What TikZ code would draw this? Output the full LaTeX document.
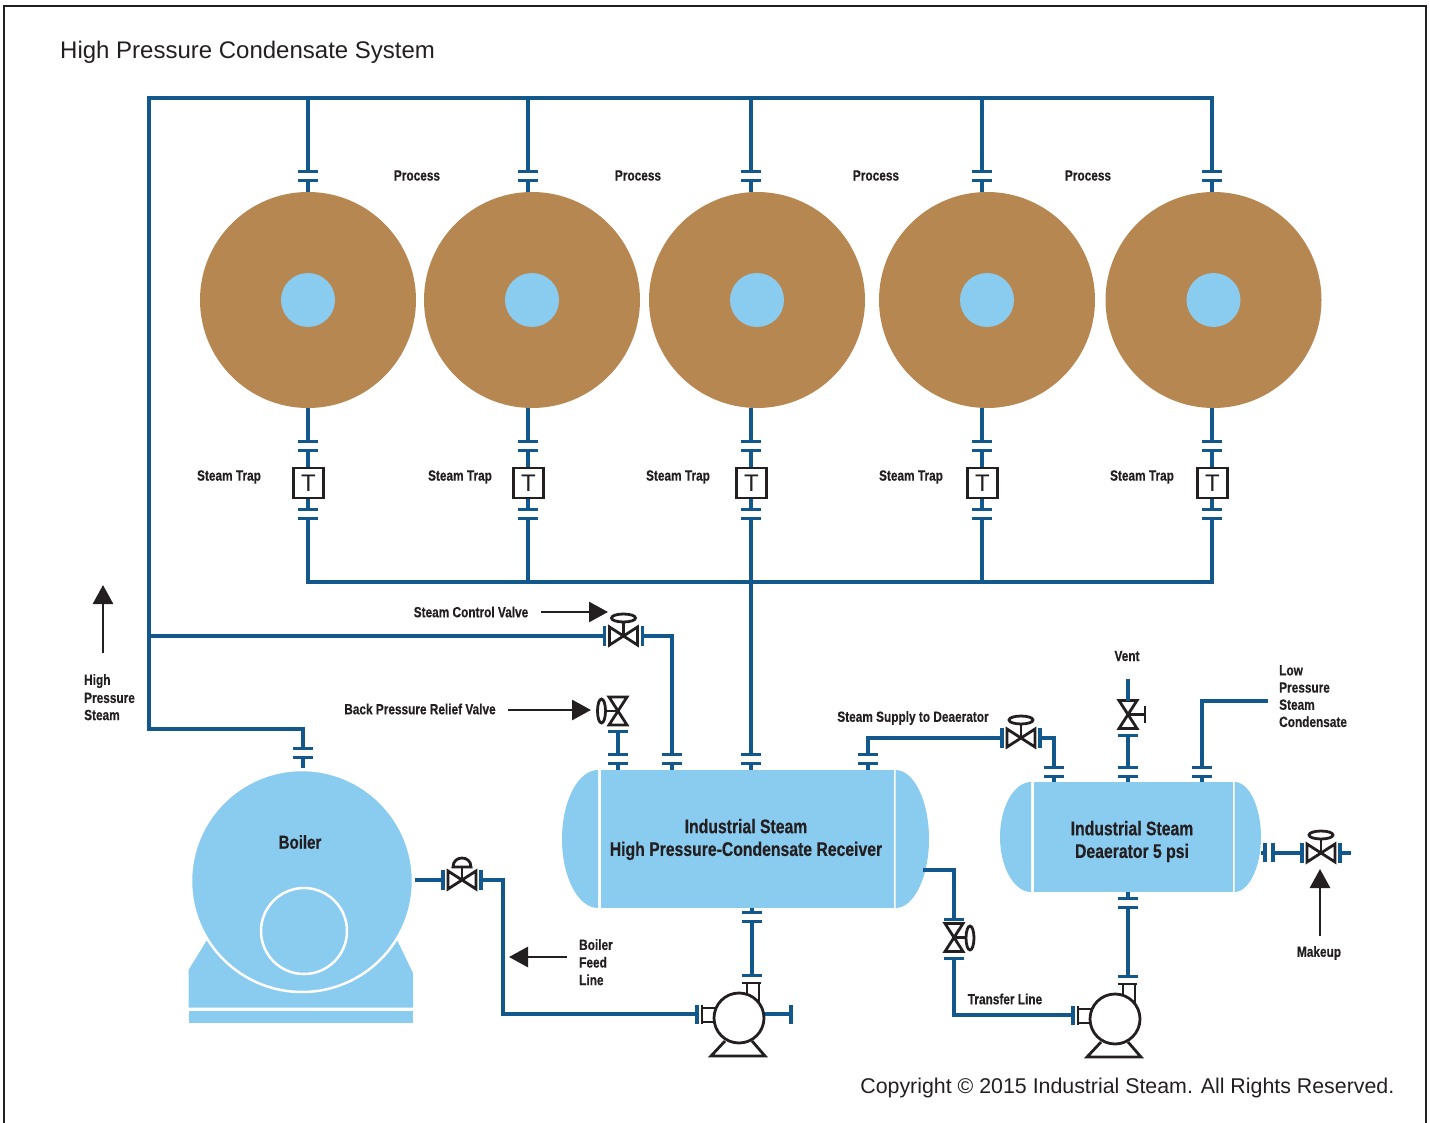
\documentclass[tikz,border=0pt]{standalone}
\usepackage{fontspec}
\setmainfont{Liberation Sans}
\newfontfamily\labfont[FakeStretch=0.8,BoldFeatures={FakeBold=0.4}]{Liberation Sans}
\usetikzlibrary{arrows.meta,calc}
\definecolor{pipeblue}{HTML}{12588C}
\definecolor{tank}{HTML}{8ACBF0}
\definecolor{drumbrown}{HTML}{B78752}
\definecolor{ink}{HTML}{231F20}
\newcommand{\fs}[1]{\fontsize{#1}{#1}\selectfont}
\tikzset{
  x=1pt,y=-1pt,
  pipe/.style={draw=pipeblue,line width=3.6pt,line join=miter},
  flangebar/.style={draw=pipeblue,line width=3pt},
  symb/.style={draw=ink,line width=2.8pt,line join=miter},
  tankfill/.style={fill=tank,draw=none},
  lab/.style={font=\labfont\bfseries\fs{14.8},text=ink,inner sep=0pt,align=left},
  biglab/.style={font=\labfont\bfseries\fs{19.7},text=ink,inner sep=0pt,align=center},
  plain/.style={font=\fs{#1},text=ink,inner sep=0pt},
  callout/.style={draw=ink,line width=2.8pt,-{Triangle[length=19pt,width=20pt]}},
  drum/.style={circle,fill=drumbrown,minimum size=216pt,inner sep=0pt},
  core/.style={circle,fill=tank,minimum size=54pt,inner sep=0pt},
  trapbox/.style={draw=ink,line width=2.8pt,minimum size=30pt,inner sep=0pt,font=\fs{24},text=ink},
  vflange/.pic={
    \draw[flangebar] (-10,-4.5)--(10,-4.5);
    \draw[flangebar] (-10,4.5)--(10,4.5);
    \coordinate (-n) at (0,-4.5);
    \coordinate (-s) at (0,4.5);
  },
  hvalve/.pic={
    \draw[symb] (-14,-9)--(14,9)--(14,-9)--(-14,9)--cycle;
    \draw[pipe] (-19,-10)--(-19,10);
    \draw[pipe] (19,-10)--(19,10);
    \coordinate (-w) at (-19,0);
    \coordinate (-e) at (19,0);
  },
  wheelup/.pic={
    \draw[symb] (0,0)--(0,-14);
    \draw[symb] (0,-18) ellipse [x radius=12pt,y radius=4pt];
  },
  vvalve/.pic={
    \draw[symb] (-9,-14)--(9,14)--(-9,14)--(9,-14)--cycle;
  },
  pumpbody/.pic={
    \draw[pipe] (-42,-13.5)--(-42,5.5);
    \draw[symb] (-37,-13.5)--(-37,5.5);
    \draw[symb] (-37,-10)--(-20,-10);
    \draw[symb] (-37,4)--(-20,4);
    \draw[symb] (3,-35)--(22,-35);
    \draw[symb] (8,-35)--(8,-18);
    \draw[symb] (20,-35)--(20,-12);
    \draw[flangebar] (3,-43)--(23,-43);
    \draw[symb] (-14,23)--(-28,38)--(26,38)--(13,23);
    \node[circle,draw=ink,fill=white,line width=2.8pt,minimum size=50pt,inner sep=0pt] at (0,0) {};
    \coordinate (-w) at (-42,-4);
    \coordinate (-n) at (13,-43);
    \coordinate (-e) at (26,-4);
  }
}
\begin{document}
\begin{tikzpicture}
\useasboundingbox (0,0) rectangle (1430,1123);
% frame
\draw[ink,line width=2.6pt] (4,1123)--(4,6)--(1426,6)--(1426,1123);
\node[plain=24,anchor=west] (title) at (60,52) {High Pressure Condensate System};
\node[plain=21.35,anchor=east] (copy) at (1394.5,1088) {Copyright © 2015 Industrial Steam. All Rights Reserved.};

% ---------- header and process drums
\coordinate (hdrL) at (149,98);
\coordinate (hdrR) at (1212,98);
\coordinate (retL) at (308,582);
\coordinate (retR) at (1212,582);
\foreach \i/\px/\dx/\lx in {1/308/308/229,2/528/532/460,3/751/757/678,4/982/987/911,5/1212/1213.5/1142}{
  \node[drum] (drum\i) at (\dx,300) {};
  \node[core] (core\i) at (\dx,300) {};
  \coordinate (hdr\i) at (\px,98);
  \coordinate (ret\i) at (\px,582);
  \coordinate (top\i) at (\px,192);
  \coordinate (bot\i) at (\px,408);
  \pic (ft\i) at (\px,176.5) {vflange};
  \pic (fb\i) at (\px,446) {vflange};
  \pic (fc\i) at (\px,514) {vflange};
  \node[trapbox] (trap\i) at (\px.5,483) {T};
  \draw[pipe] (hdr\i)--(ft\i-n);
  \draw[pipe] (ft\i-s)--(top\i);
  \draw[pipe] (bot\i)--(fb\i-n);
  \draw[pipe] (fb\i-s)--(trap\i.north-|fb\i-s);
  \draw[pipe] (trap\i.south-|fc\i-n)--(fc\i-n);
  \draw[pipe] (fc\i-s)--(ret\i);
  \node[lab] (trapl\i) at (\lx,477) {Steam Trap};
}
\node[lab] (proc1) at (417,175.5) {Process};
\node[lab] (proc2) at (638,175.5) {Process};
\node[lab] (proc3) at (876,175.5) {Process};
\node[lab] (proc4) at (1088,175.5) {Process};
\draw[pipe] ([xshift=-1.8pt]hdrL)--([xshift=1.8pt]hdrR);
\draw[pipe] ([xshift=-1.8pt]retL)--([xshift=1.8pt]retR);

% ---------- boiler
\fill[tank] (188.5,970)--(207,940)--(397,940)--(413,973)--(413,1007.5)--(188.5,1007.5)--cycle;
\fill[tank] (188.5,1011)rectangle(413,1023);
\node[circle,fill=tank,draw=white,line width=2.5pt,minimum size=222pt,inner sep=0pt] (boiler) at (302,881) {};
\node[circle,draw=white,line width=2.5pt,minimum size=86pt,inner sep=0pt] (furnace) at (304,931) {};
\node[biglab,font=\labfont\bfseries\fs{18.8}] (boilerl) at (300,842) {Boiler};

% ---------- receiver
\node[tankfill,minimum width=293pt,minimum height=138pt,inner sep=0pt] (recv) at (747,839) {};
\fill[tank] (598,770) .. controls (578,770) and (562,801) .. (562,839) .. controls (562,877) and (578,908) .. (598,908)--cycle;
\fill[tank] (895.5,770) .. controls (914,770) and (929,801) .. (929,839) .. controls (929,877) and (914,908) .. (895.5,908)--cycle;
\node[biglab] (recvl) at (746,839.5) {Industrial Steam\\[3pt]High Pressure-Condensate Receiver};

% ---------- deaerator
\node[tankfill,minimum width=199pt,minimum height=110pt,inner sep=0pt] (dea) at (1133,837) {};
\fill[tank] (1031,782) .. controls (1014,782) and (1000,807) .. (1000,837) .. controls (1000,867) and (1014,892) .. (1031,892)--cycle;
\fill[tank] (1234.5,782) .. controls (1249,782) and (1261,807) .. (1261,837) .. controls (1261,867) and (1249,892) .. (1234.5,892)--cycle;
\node[biglab] (deal) at (1132,841.5) {Industrial Steam\\[3pt]Deaerator 5 psi};

% ---------- high pressure steam to boiler
\pic (fboil) at (303,752.5) {vflange};
\coordinate (boilIn) at (303,768);
\coordinate (boilTee) at (149,729);
\draw[pipe] ([yshift=1.8pt]hdrL)--(boilTee)--(boilTee-|fboil-n)--(fboil-n);
\draw[pipe] (fboil-s)--(boilIn);

% ---------- steam control valve
\pic (ctrl) at (623.5,636) {hvalve};
\pic at (623.5,636) {wheelup};
\pic (frA) at (672,758.5) {vflange};
\coordinate (ctrlTee) at (149,636);
\coordinate (recvA) at (672,770);
\draw[pipe] (ctrlTee)--(ctrl-w);
\draw[pipe] (ctrl-e)-|(frA-n);
\draw[pipe] (frA-s)--(recvA);

% ---------- back pressure relief valve
\pic (relief) at (618,711) {vvalve};
\draw[symb] (618,711)--(606,711);
\draw[symb] (601.5,711) ellipse [x radius=4pt,y radius=12pt];
\pic (frB) at (618,758.5) {vflange};
\coordinate (reliefS) at (618,731);
\coordinate (recvB) at (618,770);
\draw[flangebar] (608,731)--(628,731);
\draw[pipe] (reliefS)--(frB-n);
\draw[pipe] (frB-s)--(recvB);

% ---------- condensate return into receiver
\pic (frC) at (751,758.5) {vflange};
\coordinate (recvC) at (751,770);
\draw[pipe] (ret3)--(frC-n);
\draw[pipe] (frC-s)--(recvC);

% ---------- steam supply to deaerator
\pic (frD) at (868,758.5) {vflange};
\coordinate (recvD) at (868,770);
\pic (sup) at (1021,738) {hvalve};
\pic at (1021,738) {wheelup};
\pic (daA) at (1054,771.5) {vflange};
\coordinate (daAin) at (1054,782);
\draw[pipe] (frD-s)--(recvD);
\draw[pipe] (frD-n)|-(sup-w);
\draw[pipe] (sup-e)-|(daA-n);
\draw[pipe] (daA-s)--(daAin);

% ---------- vent
\coordinate (ventTop) at (1128,679);
\coordinate (ventV) at (1128,701);
\pic (vent) at (1128,714.5) {vvalve};
\draw[symb] (1128,714.5)--(1145,714.5);
\draw[symb] (1145,706)--(1145,723);
\pic (daB) at (1128,771.5) {vflange};
\coordinate (ventS) at (1128,735);
\coordinate (daBin) at (1128,782);
\draw[pipe] (ventTop)--(ventV);
\draw[flangebar] (1118,735)--(1138,735);
\draw[pipe] (ventS)--(daB-n);
\draw[pipe] (daB-s)--(daBin);

% ---------- low pressure condensate
\pic (daC) at (1202,771.5) {vflange};
\coordinate (daCin) at (1202,782);
\coordinate (lpEnd) at (1268,701);
\draw[pipe] (daC-n)|-(lpEnd);
\draw[pipe] (daC-s)--(daCin);

% ---------- makeup
\coordinate (daR) at (1261,853);
\pic (mk) at (1321,853) {hvalve};
\pic at (1321,853) {wheelup};
\coordinate (mkEnd) at (1351,853);
\coordinate (mkB) at (1273,853);
\draw[pipe] (daR)--(1265,853);
\draw[pipe] (1265,843)--(1265,862);
\draw[pipe] (1273,843)--(1273,862);
\draw[pipe] (mkB)--(mk-w);
\draw[pipe] (mk-e)--(mkEnd);

% ---------- pumps and feed lines
\pic (pumpA) at (739,1018) {pumpbody};
\pic (pumpB) at (1115,1019) {pumpbody};
\pic (frE) at (752,916.5) {vflange};
\coordinate (recvE) at (752,908);
\draw[pipe] (recvE)--(frE-n);
\draw[pipe] (frE-s)--(pumpA-n);
\coordinate (discA) at (791,1014);
\draw[pipe] (pumpA-e)--(discA);
\draw[pipe] (791,1005)--(791,1024);
\pic (frF) at (1128,903) {vflange};
\coordinate (daE) at (1128,892);
\draw[pipe] (daE)--(frF-n);
\draw[pipe] (frF-s)--(pumpB-n);

% boiler feed
\coordinate (boilOut) at (415,880);
\pic (feed) at (462,880) {hvalve};
\draw[symb] (462,880)--(462,867);
\draw[symb,fill=white] (453,867) .. controls (453,855) and (471,855) .. (471,867)--cycle;
\draw[pipe] (boilOut)--(feed-w);
\draw[pipe] (feed-e)-|(503,1014)--(pumpA-w);

% transfer line
\coordinate (recvT) at (923,870);
\pic (trans) at (954,937.5) {vvalve};
\draw[symb] (954,937.5)--(966,937.5);
\draw[symb] (970,938) ellipse [x radius=4pt,y radius=12pt];
\coordinate (transN) at (954,919);
\coordinate (transS) at (954,958);
\draw[flangebar] (944,919)--(964,919);
\draw[flangebar] (944,958)--(964,958);
\draw[pipe] (recvT)-|(transN);
\draw[pipe] (transS)|-(pumpB-w);

% ---------- labels
\node[lab] (lblCtrl) at (471,612) {Steam Control Valve};
\node[lab] (lblRelief) at (420,709) {Back Pressure Relief Valve};
\node[lab] (lblSup) at (913,718) {Steam Supply to Deaerator};
\node[lab] (lblVent) at (1127,656) {Vent};
\node[lab,anchor=north west,align=left] (lblLP) at (1279,665) {Low\\[2.4pt]Pressure\\[2.4pt]Steam\\[2.4pt]Condensate};
\node[lab,anchor=north west,align=left] (lblHP) at (84,674) {High\\[3.2pt]Pressure\\[2.4pt]Steam};
\node[lab,anchor=north west,align=left] (lblFeed) at (579,939) {Boiler\\[2.8pt]Feed\\[2.8pt]Line};
\node[lab] (lblMk) at (1319,953) {Makeup};
\node[lab] (lblTr) at (1005,999) {Transfer Line};

% ---------- callout arrows
\coordinate (aCtrlS) at (541,612);
\coordinate (aCtrlE) at (608,612);
\coordinate (aRelS) at (508,710);
\coordinate (aRelE) at (591,710);
\coordinate (aHPS) at (103,653);
\coordinate (aHPE) at (103,585);
\coordinate (aFdS) at (567,957);
\coordinate (aFdE) at (509,957);
\coordinate (aMkS) at (1320,936);
\coordinate (aMkE) at (1320,869);
\draw[callout] (aCtrlS)--(aCtrlE);
\draw[callout] (aRelS)--(aRelE);
\draw[callout] (aHPS)--(aHPE);
\draw[callout] (aFdS)--(aFdE);
\draw[callout] (aMkS)--(aMkE);
\end{tikzpicture}
\end{document}
